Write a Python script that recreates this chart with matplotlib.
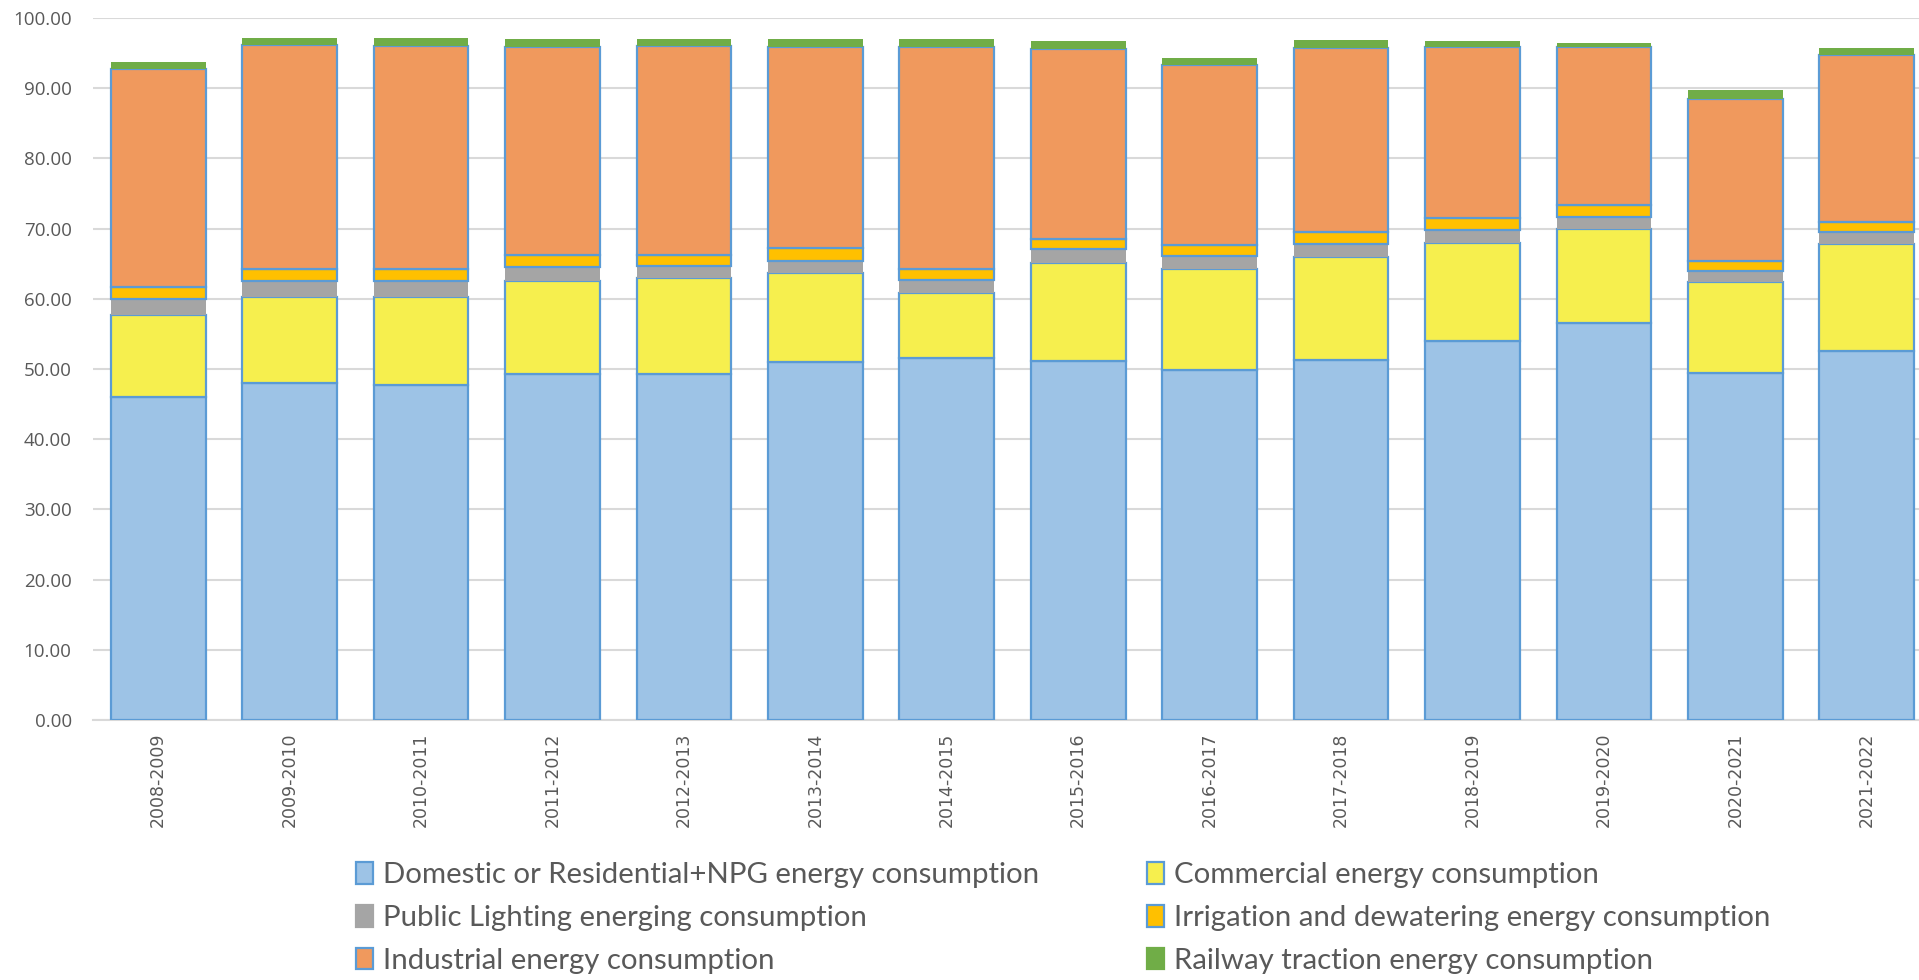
import matplotlib
matplotlib.use("Agg")
import matplotlib.pyplot as plt
import numpy as np
from matplotlib.patches import Patch

years = ["2008-2009", "2009-2010", "2010-2011", "2011-2012", "2012-2013",
         "2013-2014", "2014-2015", "2015-2016", "2016-2017", "2017-2018",
         "2018-2019", "2019-2020", "2020-2021", "2021-2022"]

domestic = [46.0, 48.0, 47.7, 49.35, 49.25, 51.0, 51.5, 51.15, 49.9, 51.3, 54.0, 56.6, 49.5, 52.5]
commercial = [11.66, 12.2, 12.6, 13.15, 13.75, 12.65, 9.3, 13.95, 14.35, 14.67, 13.9, 13.3, 12.9, 15.3]
public_lighting = [2.28, 2.3, 2.3, 2.0, 1.7, 1.8, 1.85, 2.0, 1.85, 1.83, 1.9, 1.7, 1.5, 1.65]
irrigation = [1.76, 1.8, 1.7, 1.7, 1.6, 1.75, 1.65, 1.4, 1.6, 1.7, 1.7, 1.8, 1.5, 1.55]
industrial = [31.1, 31.8, 31.7, 29.7, 29.7, 28.6, 31.5, 27.1, 25.55, 26.2, 24.3, 22.5, 23.1, 23.8]
railway = [1.0, 1.1, 1.1, 1.1, 1.0, 1.2, 1.2, 1.15, 1.1, 1.2, 0.95, 0.6, 1.2, 0.9]

series_names = ["Domestic or Residential+NPG energy consumption",
                "Commercial energy consumption",
                "Public Lighting energing consumption",
                "Irrigation and dewatering energy consumption",
                "Industrial energy consumption",
                "Railway traction energy consumption"]

fills = ["#9DC3E6", "#F6EF4E", "#A5A5A5", "#FFC000", "#F0995D", "#70AD47"]
edges = ["#5B9BD5", "#5B9BD5", "none", "#5B9BD5", "#5B9BD5", "none"]

text_grey = "#595959"

W, H = 1919, 980
fig = plt.figure(figsize=(W / 100, H / 100), dpi=100)
ax = fig.add_axes([92.5 / W, 1 - 720 / H, 1840 / W, 702 / H])

x = np.arange(len(years))
bottom = np.zeros(len(years))
stack = [domestic, commercial, public_lighting, irrigation, industrial, railway]
for vals, fc, ec in zip(stack, fills, edges):
    vals = np.array(vals)
    ax.bar(x, vals, bottom=bottom, width=0.72, color=fc,
           edgecolor=ec, linewidth=1.6, zorder=3)
    bottom += vals

ax.set_xlim(-0.5, len(years) - 0.5)
ax.set_ylim(0, 100)
yt = np.arange(0, 101, 10)
ax.set_yticks(yt)
ax.set_yticklabels([f"{v:.2f}" for v in yt], family="Open Sans",
                   fontsize=13.5, color=text_grey)
ax.set_xticks(x)
ax.set_xticklabels(years, rotation=90, fontsize=12.5, color=text_grey,
                   family="DejaVu Sans")
ax.tick_params(axis="both", length=0)
ax.tick_params(axis="y", pad=15)
ax.tick_params(axis="x", pad=9)
ax.grid(axis="y", color="#D9D9D9", linewidth=1.5, zorder=0)
ax.set_axisbelow(True)
for s in ["top", "right", "left"]:
    ax.spines[s].set_visible(False)
ax.spines["bottom"].set_color("#D9D9D9")
ax.spines["bottom"].set_linewidth(1.5)

handles = [Patch(facecolor=fc, edgecolor=(ec if ec != "none" else fc), linewidth=1.6)
           for fc, ec in zip(fills, edges)]

legend_kw = dict(loc="center left", frameon=False,
                 prop={"family": "Lato", "size": 21.2},
                 handlelength=0.58, handleheight=0.76, handletextpad=0.33,
                 labelspacing=0.56, borderaxespad=0, borderpad=0)

# left column: residential, public lighting, industrial
leg1 = fig.legend([handles[i] for i in (0, 2, 4)],
                  [series_names[i] for i in (0, 2, 4)],
                  bbox_to_anchor=(356 / W, 1 - 918 / H), **legend_kw)
# right column: commercial, irrigation, railway
leg2 = fig.legend([handles[i] for i in (1, 3, 5)],
                  [series_names[i] for i in (1, 3, 5)],
                  bbox_to_anchor=(1147 / W, 1 - 918 / H), **legend_kw)
for leg in (leg1, leg2):
    for t in leg.get_texts():
        t.set_color(text_grey)

fig.savefig("out.png", dpi=100)
